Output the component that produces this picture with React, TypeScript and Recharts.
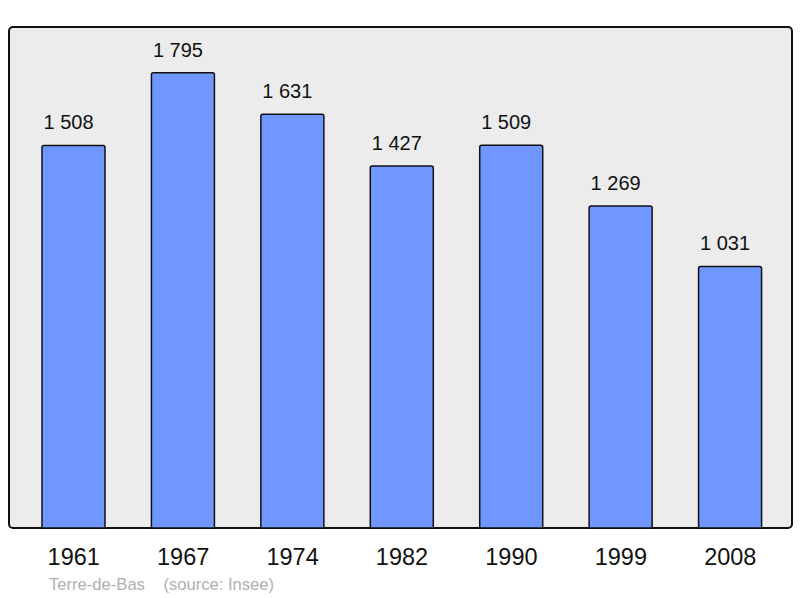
import React from 'react';
import { BarChart, Bar, XAxis, YAxis, CartesianGrid, LabelList, usePlotArea } from 'recharts';

const YEARS = ['1961', '1967', '1974', '1982', '1990', '1999', '2008'];
const POPULATION = [1508, 1795, 1631, 1427, 1509, 1269, 1031];

const data = YEARS.map((year, i) => ({ year, population: POPULATION[i] }));

const FONT = '"Liberation Sans", Arial, sans-serif';

const fmt = (v: any) => String(v).replace(/\B(?=(\d{3})+(?!\d))/g, ' ');

// border drawn over the plot area, bars sit inside it
const Frame = () => {
  const area = usePlotArea();
  if (!area) return null;
  return (
    <rect
      x={area.x}
      y={area.y}
      width={area.width}
      height={area.height}
      rx={4}
      fill="none"
      stroke="#111"
      strokeWidth={2}
    />
  );
};

const Source = () => (
  <text x={49} y={590} fontSize={16.6} fill="#b0b0b0" fontFamily={FONT}>
    Terre-de-Bas{'\u00a0\u00a0\u00a0\u00a0'}(source: Insee)
  </text>
);

export default function App() {
  return (
    <div style={{ position: 'absolute', left: 0, top: 0, width: 800, height: 598, background: '#fff' }}>
      <BarChart
        width={800}
        height={598}
        data={data}
        margin={{ top: 27, right: 8, bottom: 40, left: 9 }}
        barCategoryGap={0}
      >
        <CartesianGrid fill="#ececec" horizontal={false} vertical={false} />
        <XAxis
          dataKey="year"
          axisLine={false}
          tickLine={false}
          height={30}
          padding={{ left: 10, right: 7 }}
          tickMargin={14}
          tick={{ fontSize: 23.5, fill: '#111', fontFamily: FONT }}
        />
        <YAxis hide domain={[0, 1975]} />
        <Bar
          dataKey="population"
          fill="#7096ff"
          stroke="#111"
          strokeWidth={1.5}
          barSize={63}
          radius={[2, 2, 0, 0]}
          isAnimationActive={false}
        >
          <LabelList
            dataKey="population"
            position="top"
            offset={16}
            dx={-5}
            formatter={fmt}
            style={{ fontSize: 20, fill: '#111', fontFamily: FONT }}
          />
        </Bar>
        <Frame />
        <Source />
      </BarChart>
    </div>
  );
}
